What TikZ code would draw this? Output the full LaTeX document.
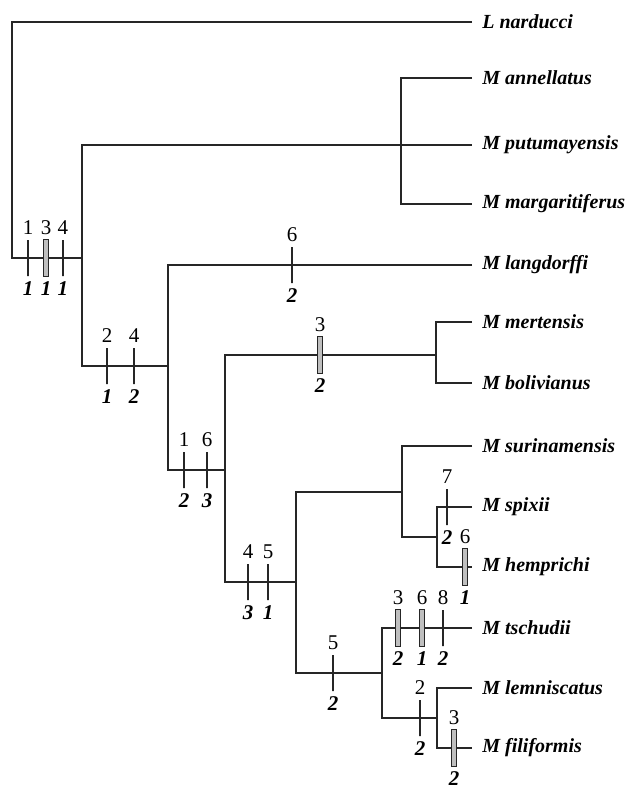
\documentclass[tikz,border=0pt]{standalone}
\usepackage{fontspec}
\setmainfont{Liberation Serif}

\tikzset{
  branch/.style={line width=1.1pt, draw=black!85},
  taxon/.style={anchor=west, inner sep=5pt, font=\fontsize{10}{12}\selectfont\bfseries\itshape},
  chartick/.style={draw=black!85, line width=1.2pt, inner sep=0pt, minimum width=0pt, minimum height=18pt},
  chargray/.style={draw=black!85, fill=gray!50, line width=0.6pt, inner sep=0pt, minimum width=2.6pt, minimum height=18.5pt},
  labup/.style={inner sep=2pt, font=\fontsize{10.5}{12}\selectfont},
  labdn/.style={inner sep=2pt, font=\fontsize{10.5}{12}\selectfont\bfseries\itshape},
}

\begin{document}
\begin{tikzpicture}[x=0.5pt, y=-0.5pt]
  \useasboundingbox (0,0) rectangle (630,787);

  % Define taxa
  \node[taxon] (lnar) at (472,22)  {L narducci};
  \node[taxon] (mann) at (472,78)  {M annellatus};
  \node[taxon] (mput) at (472,145) {M putumayensis};
  \node[taxon] (mmar) at (472,204) {M margaritiferus};
  \node[taxon] (mlan) at (472,265) {M langdorffi};
  \node[taxon] (mmer) at (472,322) {M mertensis};
  \node[taxon] (mbol) at (472,383) {M bolivianus};
  \node[taxon] (msur) at (472,446) {M surinamensis};
  \node[taxon] (mspi) at (472,507) {M spixii};
  \node[taxon] (mhem) at (472,567) {M hemprichi};
  \node[taxon] (mtsc) at (472,628) {M tschudii};
  \node[taxon] (mlem) at (472,688) {M lemniscatus};
  \node[taxon] (mfil) at (472,748) {M filiformis};

  % Define internal nodes
  \coordinate (r0)  at (12,258);
  \coordinate (n1)  at (82,258);
  \coordinate (n2)  at (401,145);
  \coordinate (n3)  at (168,366);
  \coordinate (n4)  at (225,470);
  \coordinate (n5)  at (436,355);
  \coordinate (n6)  at (296,582);
  \coordinate (n7)  at (402,492);
  \coordinate (n8)  at (437,537);
  \coordinate (n9)  at (382,673);
  \coordinate (n10) at (437,718);

  % Draw tree
  \draw[branch] (lnar.west) -| (r0) -- (n1);
  \draw[branch] (n2) -| (n1) |- (n3);
  \draw[branch] (mann.west) -| (n2) |- (mmar.west);
  \draw[branch] (n2) -- (mput.west);
  \draw[branch] (mlan.west) -| (n3) |- (n4);
  \draw[branch] (n5) -| (n4) |- (n6);
  \draw[branch] (mmer.west) -| (n5) |- (mbol.west);
  \draw[branch] (n7) -| (n6) |- (n9);
  \draw[branch] (msur.west) -| (n7) |- (n8);
  \draw[branch] (mspi.west) -| (n8) |- (mhem.west);
  \draw[branch] (mtsc.west) -| (n9) |- (n10);
  \draw[branch] (mlem.west) -| (n10) |- (mfil.west);

  % Character changes
  \node[chartick] (c1) at (28,258) [label={[labup]above:1}, label={[labdn]below:1}] {};
  \node[chargray] (c2) at (46,258) [label={[labup]above:3}, label={[labdn]below:1}] {};
  \node[chartick] (c3) at (63,258) [label={[labup]above:4}, label={[labdn]below:1}] {};
  \node[chartick] (c4) at (107,366) [label={[labup]above:2}, label={[labdn]below:1}] {};
  \node[chartick] (c5) at (134,366) [label={[labup]above:4}, label={[labdn]below:2}] {};
  \node[chartick] (c6) at (292,265) [label={[labup]above:6}, label={[labdn]below:2}] {};
  \node[chartick] (c7) at (184,470) [label={[labup]above:1}, label={[labdn]below:2}] {};
  \node[chartick] (c8) at (207,470) [label={[labup]above:6}, label={[labdn]below:3}] {};
  \node[chargray] (c9) at (320,355) [label={[labup]above:3}, label={[labdn]below:2}] {};
  \node[chartick] (c10) at (248,582) [label={[labup]above:4}, label={[labdn]below:3}] {};
  \node[chartick] (c11) at (268,582) [label={[labup]above:5}, label={[labdn]below:1}] {};
  \node[chartick] (c12) at (447,507) [label={[labup]above:7}, label={[labdn]below:2}] {};
  \node[chargray] (c13) at (465,567) [label={[labup]above:6}, label={[labdn]below:1}] {};
  \node[chartick] (c14) at (333,673) [label={[labup]above:5}, label={[labdn]below:2}] {};
  \node[chargray] (c15) at (398,628) [label={[labup]above:3}, label={[labdn]below:2}] {};
  \node[chargray] (c16) at (422,628) [label={[labup]above:6}, label={[labdn]below:1}] {};
  \node[chartick] (c17) at (443,628) [label={[labup]above:8}, label={[labdn]below:2}] {};
  \node[chartick] (c18) at (420,718) [label={[labup]above:2}, label={[labdn]below:2}] {};
  \node[chargray] (c19) at (454,748) [label={[labup]above:3}, label={[labdn]below:2}] {};
\end{tikzpicture}
\end{document}
